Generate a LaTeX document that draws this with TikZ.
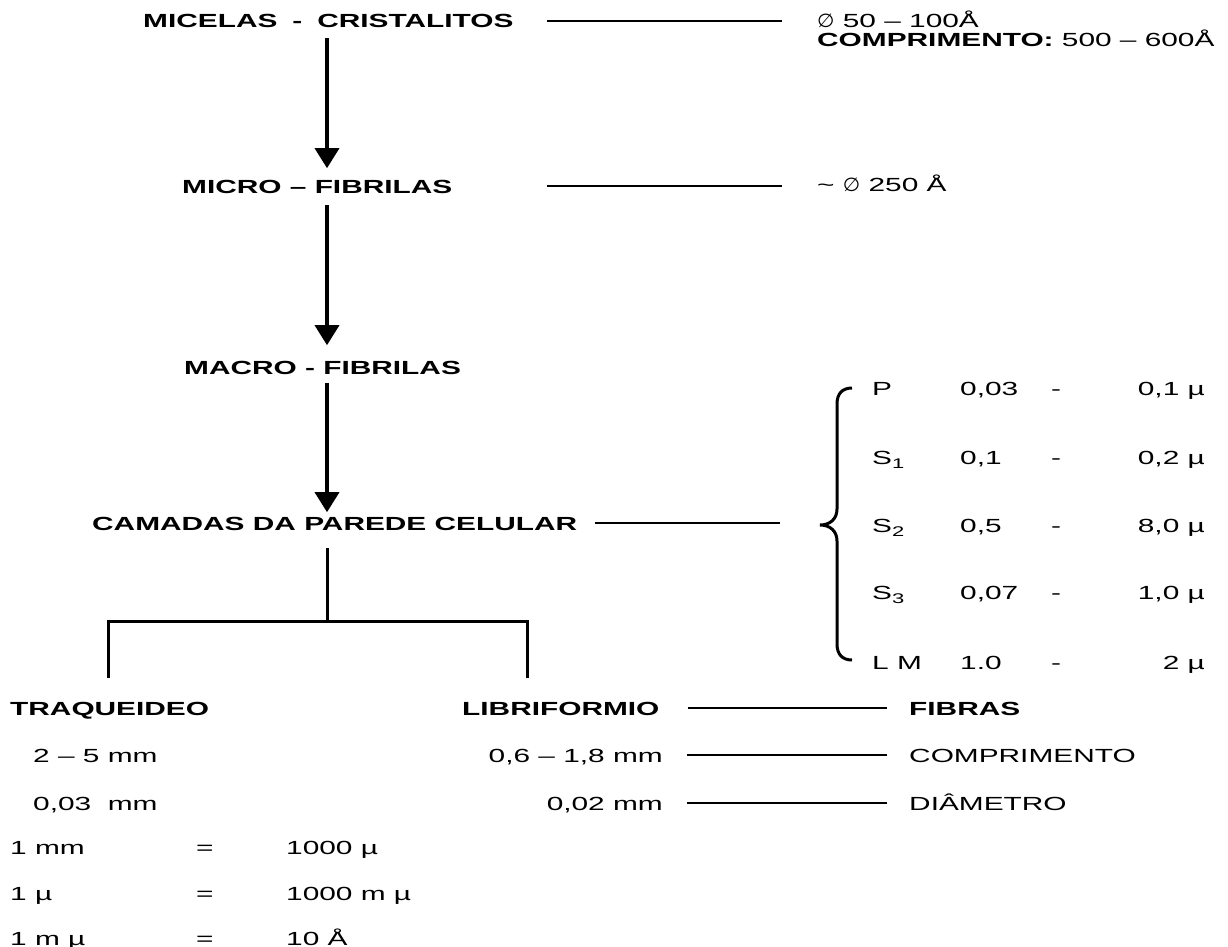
\documentclass[tikz,border=0pt]{standalone}
\usepackage{fontspec}
\setmainfont{Liberation Sans}[FakeStretch=1.57]
\newfontfamily\diamfont{DejaVu Sans}[FakeStretch=1.05]
\usetikzlibrary{positioning, arrows.meta}
\newcommand{\lowidx}[1]{\raisebox{-4pt}{\fontsize{14}{14}\selectfont #1}}
\newcommand{\diam}{{\diamfont ∅}}

\begin{document}
\begin{tikzpicture}[x=1pt, y=-1pt,
    txt/.style={anchor=base west, inner sep=0pt, text height=13.6pt, text depth=0pt, font=\fontsize{19}{22}\selectfont},
    head/.style={txt, font=\fontsize{19}{22}\selectfont\bfseries},
    num/.style={txt, anchor=base east},
    flow/.style={line width=3.5pt, -{Triangle[width=24pt, length=20pt]}},
    link/.style={line width=1.5pt},
    tree/.style={line width=3pt}]
    \useasboundingbox (0,0) rectangle (1228,947);
    \coordinate (spine) at (327,0);
    \coordinate (lstart) at (547,0);

    \node[head] (micelas) at (143,28) {MICELAS\hspace{15pt}-\hspace{15pt}CRISTALITOS};
    \node[head] (micro) at (182,193) {MICRO – FIBRILAS};
    \node[head] (macro) at (184,374) {MACRO - FIBRILAS};
    \node[head] (camadas) at (92,530) {CAMADAS DA PAREDE CELULAR};
    \draw[flow, shorten <=10pt, shorten >=11pt] (spine |- micelas.south) -- (spine |- micro.north);
    \draw[flow, shorten <=12pt, shorten >=15pt] (spine |- micro.south) -- (spine |- macro.north);
    \draw[flow, shorten <=9pt, shorten >=4pt] (spine |- macro.south) -- (spine |- camadas.north);

    \node[txt] (micdiam) at (817,28) {\diam\ 50 – 100Å};
    \node[txt] (miclen) at (817,47) {\textbf{COMPRIMENTO:} 500 – 600Å};
    \node[txt] (microdiam) at (817,191) {\textasciitilde\ \diam\ 250 Å};
    \draw[link, shorten >=35pt] (lstart |- micelas.east) -- (micdiam.west |- micelas.east);
    \draw[link, shorten >=35pt] (lstart |- micro.east) -- (microdiam.west |- micro.east);

    \coordinate (bracetip) at (820,525);
    \draw[tree] (852,388) .. controls (842,388) and (837,394) .. (837,404) -- (837,509)
        .. controls (837,519) and (830,525) .. (bracetip)
        .. controls (830,525) and (837,531) .. (837,541) -- (837,644)
        .. controls (837,654) and (842,660) .. (852,660);
    \draw[link, shorten <=18pt, shorten >=40pt] (camadas.east) -- (bracetip |- camadas.east);
    \foreach \lay/\lo/\hi/\yy [count=\i] in {P/{0,03}/{0,1 µ}/395, S\lowidx{1}/{0,1}/{0,2 µ}/464,
        S\lowidx{2}/{0,5}/{8,0 µ}/532, S\lowidx{3}/{0,07}/{1,0 µ}/599, L M/{1.0}/{2 µ}/669}{
      \node[txt] (layer\i) at (872,\yy) {\lay};
      \node[txt] (low\i) at (960,\yy) {\lo};
      \node[txt] (dash\i) at (1051,\yy) {-};
      \node[num] (high\i) at (1205,\yy) {\hi};
    }

    \coordinate (fork) at (327,621);
    \coordinate (lfoot) at (108,678);
    \coordinate (rfoot) at (527,678);
    \draw[tree, shorten <=18pt] (spine |- camadas.south) -- (fork);
    \draw[tree] (lfoot) |- (rfoot |- fork) -- (rfoot);

    \node[head] (traq) at (10,715) {TRAQUEIDEO};
    \node[head] (libri) at (462,715) {LIBRIFORMIO};
    \node[head] (fibras) at (909,715) {FIBRAS};
    \node[txt] (traqlen) at (33,762) {2 – 5 mm};
    \node[num] (librilen) at (663,762) {0,6 – 1,8 mm};
    \node[txt] (lenlabel) at (909,762) {COMPRIMENTO};
    \node[txt] (traqdiam) at (33,810) {0,03\ \ mm};
    \node[num] (libridiam) at (663,810) {0,02 mm};
    \node[txt] (diamlabel) at (909,810) {DIÂMETRO};
    \draw[link, shorten <=28pt, shorten >=22pt] (libri.east) -- (fibras.west |- libri.east);
    \draw[link, shorten <=24pt, shorten >=22pt] (librilen.east) -- (lenlabel.west |- librilen.east);
    \draw[link, shorten <=24pt, shorten >=22pt] (libridiam.east) -- (diamlabel.west |- libridiam.east);

    \foreach \lhs/\rhs/\yy [count=\i] in {1 mm/1000 µ/854, 1 µ/1000 m µ/900, 1 m µ/10 Å/945}{
      \node[txt] (unit\i) at (10,\yy) {\lhs};
      \node[txt] (eq\i) at (196,\yy) {=};
      \node[txt] (val\i) at (286,\yy) {\rhs};
    }
\end{tikzpicture}
\end{document}
